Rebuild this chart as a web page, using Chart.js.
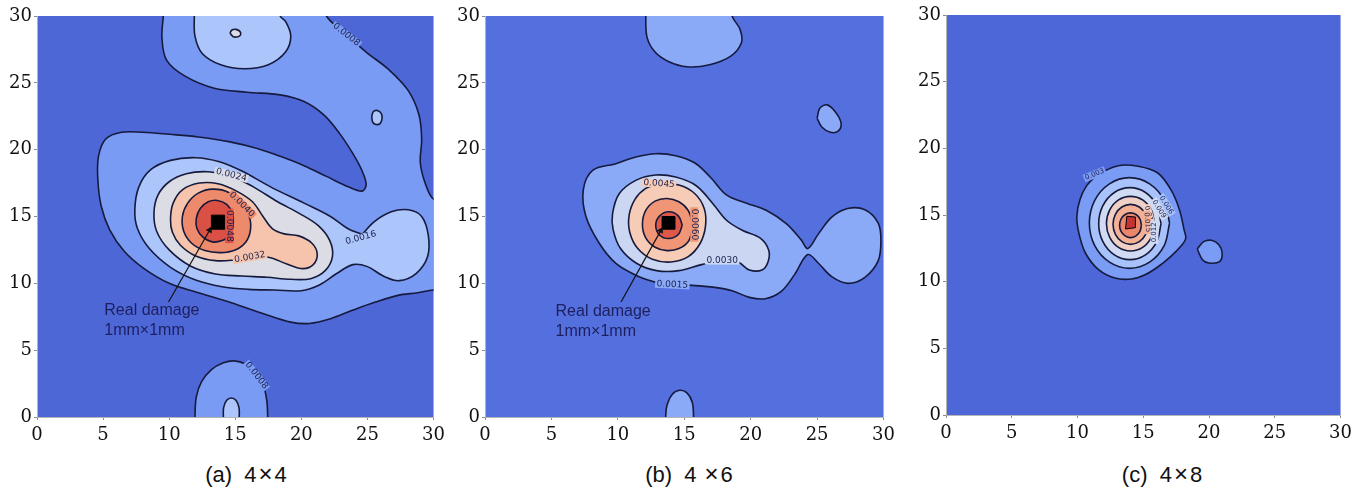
<!DOCTYPE html>
<html>
<head>
<meta charset="utf-8">
<script src="https://cdn.jsdelivr.net/npm/chart.js@4.4.0/dist/chart.umd.min.js"></script>
<style>
  body { margin: 0; background: #fff; width: 1357px; height: 490px; overflow: hidden; position: relative; }
  canvas { position: absolute; top: 0; }
  .caption { position: absolute; top: 463px; font: 22px "Liberation Sans", Arial, sans-serif; line-height: 22px;
             color: #111; white-space: pre; transform: translateX(-50%); }
  .caption span { margin: 0 2px; font-size: 24px; }
</style>
</head>
<body>
<canvas id="chartA" width="450" height="450" style="left:0px"></canvas>
<canvas id="chartB" width="450" height="450" style="left:450px"></canvas>
<canvas id="chartC" width="457" height="450" style="left:900px"></canvas>
<script>
const axisTicks = [0, 5, 10, 15, 20, 25, 30];
const captions = ['(a)  4×4', '(b)  4 ×6', '(c)  4×8'];
const noteLines = ['Real damage', '1mm×1mm'];

// (a) 4x4 : contour outlines, [x, y]
const a1Main = [[9.55,31],[9.55,30],[9.45,28.4],[9.8,26.7],[11.2,25.5],[13.4,24.6],[15.9,24.3],[18.4,24.1],[20.2,23.6],
  [21.7,22.6],[22.9,21.2],[23.9,19.7],[24.6,18.4],[24.9,17.4],[24.6,16.9],[23.6,17.2],[21.9,18.0],[20.2,18.8],[18.4,19.5],
  [16.6,20.1],[14.5,20.6],[12.2,20.95],[10.0,21.15],[8.0,21.3],[6.4,21.3],[5.2,20.8],[4.65,19.5],[4.6,17.8],[4.85,15.8],
  [5.5,14.0],[6.6,12.4],[8.1,11.1],[10.0,10.0],[12.2,9.3],[14.7,8.55],[17.2,7.7],[19.2,7.1],[20.6,7.0],[22.2,7.35],
  [23.9,8.0],[25.6,8.6],[27.3,9.1],[28.8,9.3],[30,9.5],[31,9.5],[31,16.3],[30,16.3],[29.4,17.4],[29.0,19.0],[29.1,20.8],
  [28.9,22.6],[28.1,24.4],[26.6,26.0],[24.9,27.3],[23.3,28.7],[21.9,30],[21.9,31]];
const a1Bottom = [[11.95,-1],[11.95,0],[12.05,1.5],[12.45,2.65],[13.2,3.55],[14.1,4.05],[14.9,4.2],[15.8,3.95],[16.6,3.3],
  [17.15,2.3],[17.4,1.1],[17.45,0],[17.45,-1]];
const a2Top = [[11.9,31],[11.9,30],[11.95,28.5],[12.5,27.2],[13.9,26.35],[15.7,26.05],[17.5,26.35],[18.8,27.3],[19.2,28.5],
  [18.8,29.6],[18.4,30],[18.4,31]];
const a2Island = [[25.32,22.45],[25.45,22.85],[25.75,22.93],[26.05,22.7],[26.1,22.3],[25.95,21.95],[25.65,21.88],[25.4,22.05],[25.32,22.45]];
const a2Bottom = [[14.1,-1],[14.1,0],[14.12,0.7],[14.35,1.25],[14.7,1.42],[15.05,1.25],[15.28,0.7],[15.3,0],[15.3,-1]];
const a2Main = [[24.6,13.65],[25.5,14.6],[26.8,15.35],[28.1,15.5],[29.1,15.0],[29.6,13.6],[29.55,12.0],[28.7,10.75],
  [27.4,10.2],[26.2,10.55],[25.0,11.25],[23.9,11.4],[22.7,10.75],[21.4,9.9],[20.0,9.45],[18.0,9.5],[16.0,9.55],[14.0,9.75],
  [12.0,10.25],[10.1,11.2],[8.5,12.6],[7.6,14.1],[7.4,15.5],[7.7,17.2],[8.6,18.5],[10.1,19.2],[12.0,19.4],[13.8,19.1],
  [15.5,18.4],[17.7,17.2],[20.2,16.0],[22.2,15.0],[23.5,14.1],[24.6,13.65]];
const a3Main = [[14.7,18.05],[16.4,17.2],[18.2,16.1],[19.9,15.2],[21.3,14.3],[22.15,13.2],[22.35,12.0],[21.8,10.95],
  [20.7,10.35],[19.2,10.3],[17.4,10.45],[15.5,10.55],[13.5,10.7],[11.6,11.3],[10.0,12.5],[9.05,13.9],[8.85,15.3],
  [9.15,16.6],[10.0,17.6],[11.3,18.2],[12.9,18.35],[14.7,18.05]];
const a3Island = [[14.6,28.72],[14.75,28.95],[15.05,29.0],[15.35,28.85],[15.4,28.6],[15.2,28.45],[14.85,28.45],[14.6,28.72]];
const a4Main = [[16.05,11.9],[17.5,11.95],[18.9,11.45],[20.1,11.1],[20.9,11.4],[21.2,12.2],[20.8,13.0],[19.8,13.55],
  [18.7,13.7],[17.8,14.1],[17.1,15.0],[16.3,16.1],[15.1,16.9],[13.7,17.45],[12.3,17.5],[11.0,17.0],[10.3,16.0],[10.1,14.8],
  [10.25,13.8],[10.85,12.85],[12.0,12.05],[13.5,11.7],[15.0,11.75],[16.05,11.9]];
const a5Main = [[15.4,15.95],[16.05,15.0],[16.15,14.0],[15.8,13.1],[15.0,12.5],[13.9,12.3],[12.7,12.45],[11.7,13.0],
  [11.1,13.9],[11.0,15.0],[11.4,16.0],[12.2,16.75],[13.3,17.05],[14.5,16.8],[15.4,15.95]];
const a6Main = [[14.85,14.4],[14.6,13.6],[14.0,13.2],[13.25,13.1],[12.55,13.45],[12.1,14.1],[12.05,14.85],[12.35,15.6],
  [12.95,16.1],[13.65,16.2],[14.35,15.9],[14.8,15.2],[14.85,14.4]];
const aDamage = [[13.2,14.05],[14.2,14.05],[14.2,15.1],[13.2,15.1],[13.2,14.05]];
const aArrow = [[9.95,8.6],[13.07,13.99]];
const aNote = [5.09, 7.63];
// [text, x, y, angle, contour level it sits on]
const aLabels = [['0.0008',23.4,28.6,38,1],['0.0008',16.6,3.1,52,1],['0.0024',14.7,18.1,14,3],['0.0040',15.5,15.9,45,5],
  ['0.0048',14.55,14.3,90,6],['0.0032',16.1,11.95,-10,4],['0.0016',24.5,13.4,-15,2]];

// (b) 4x6
const b1Top = [[12.1,31],[12.1,30],[12.2,28.4],[12.8,27.3],[13.8,26.6],[15.2,26.2],[16.9,26.35],[18.5,27.0],[19.3,28.0],
  [19.2,29.0],[18.6,30],[18.6,31]];
const b1Island = [[25.0,22.35],[25.2,23.1],[25.75,23.35],[26.35,22.85],[26.8,22.0],[26.6,21.4],[26.0,21.3],[25.35,21.7],[25.0,22.35]];
const b1Bottom = [[13.6,-1],[13.6,0],[13.7,0.9],[14.1,1.7],[14.65,2.0],[15.2,1.8],[15.6,1.1],[15.7,0],[15.7,-1]];
const b1Main = [[14.1,9.9],[15.6,9.85],[17.3,9.7],[18.6,9.45],[19.9,8.95],[21.1,8.85],[22.3,9.4],[23.3,10.65],[24.3,12.15],
  [25.1,11.5],[26.1,10.5],[27.3,10.0],[28.6,10.45],[29.6,11.7],[29.8,13.2],[29.6,14.5],[28.6,15.5],[27.3,15.6],[26.1,14.95],
  [25.1,13.7],[24.3,12.6],[23.8,13.25],[22.7,14.45],[21.2,15.45],[19.7,16.0],[18.2,16.6],[17.0,17.9],[15.8,19.0],
  [14.35,19.55],[12.85,19.7],[11.35,19.45],[9.85,18.95],[8.1,18.45],[7.4,17.0],[7.6,15.0],[8.6,13.0],[9.85,11.5],
  [11.6,10.5],[13.0,10.05],[14.1,9.9]];
const b2Main = [[17.85,11.7],[19.1,11.55],[19.9,11.0],[20.85,11.0],[21.3,11.6],[21.35,12.5],[20.7,13.4],[19.4,13.95],
  [18.2,14.7],[17.2,15.9],[15.9,17.3],[14.35,17.95],[12.85,18.1],[11.35,17.7],[10.1,16.7],[9.6,15.2],[9.65,14.0],
  [10.2,12.6],[11.4,11.5],[12.9,10.95],[14.6,10.95],[16.3,11.4],[17.85,11.7]];
const b3Main = [[13.1,17.45],[14.6,17.35],[15.8,16.7],[16.5,15.6],[16.6,14.3],[16.2,13.0],[15.3,12.0],[14.0,11.6],
  [12.6,11.8],[11.5,12.6],[10.9,13.8],[10.85,15.1],[11.3,16.3],[12.1,17.1],[13.1,17.45]];
const b4Main = [[15.65,14.4],[15.35,13.2],[14.6,12.6],[13.7,12.45],[12.8,12.7],[12.1,13.4],[11.85,14.4],[12.1,15.45],
  [12.8,16.15],[13.7,16.35],[14.6,16.1],[15.3,15.45],[15.65,14.4]];
const b5Main = [[14.85,14.35],[14.55,13.65],[13.85,13.35],[13.15,13.6],[12.85,14.35],[13.15,15.05],[13.85,15.35],
  [14.55,15.05],[14.85,14.35]];
const bDamage = [[13.35,14.05],[14.3,14.05],[14.3,15.0],[13.35,15.0],[13.35,14.05]];
const bArrow = [[10.24,8.6],[13.24,13.96]];
const bNote = [5.31, 7.53];
const bLabels = [['0.0045',13.1,17.45,4,3],['0.0060',15.75,14.4,90,4],['0.0030',17.85,11.7,0,2],['0.0015',14.1,9.9,3,1]];

// (c) 4x8
const c1Main = [[11.5,18.05],[13.1,18.7],[14.6,18.65],[16.1,18.15],[17.1,16.9],[17.75,15.4],[18.1,13.9],[18.23,13.25],
  [17.85,12.65],[17.1,11.9],[16.1,11.1],[15.1,10.5],[14.1,10.2],[12.85,10.27],[11.6,10.9],[10.6,12.15],[10.1,13.65],
  [9.95,14.9],[10.2,16.2],[10.7,17.2],[11.5,18.05]];
const c1Island = [[19.1,12.45],[19.6,13.0],[20.2,13.1],[20.75,12.77],[21.0,12.15],[20.8,11.5],[20.0,11.4],[19.5,11.65],[19.1,12.45]];
const c2Main = [[17.0,14.4],[16.59,16.1],[15.48,17.34],[13.95,17.8],[12.43,17.34],[11.31,16.1],[10.9,14.4],[11.31,12.7],
  [12.43,11.46],[13.95,11.0],[15.48,11.46],[16.59,12.7],[17.0,14.4]];
const c3Main = [[16.35,14.35],[16.03,15.7],[15.17,16.69],[13.98,17.05],[12.8,16.69],[11.93,15.7],[11.61,14.35],[11.93,13.0],
  [12.8,12.01],[13.98,11.65],[15.17,12.01],[16.03,13.0],[16.35,14.35]];
const c4Main = [[15.86,14.35],[15.61,15.38],[14.95,16.13],[14.03,16.4],[13.12,16.13],[12.45,15.38],[12.2,14.35],[12.45,13.33],
  [13.12,12.57],[14.03,12.3],[14.95,12.57],[15.61,13.33],[15.86,14.35]];
const c5Main = [[15.36,14.3],[15.18,15.05],[14.7,15.6],[14.03,15.8],[13.37,15.6],[12.88,15.05],[12.7,14.3],[12.88,13.55],
  [13.37,13.0],[14.03,12.8],[14.7,13.0],[15.18,13.55],[15.36,14.3]];
const c6Main = [[14.86,14.23],[14.75,14.7],[14.45,15.04],[14.03,15.16],[13.62,15.04],[13.31,14.7],[13.2,14.23],[13.31,13.77],
  [13.62,13.43],[14.03,13.3],[14.45,13.43],[14.75,13.77],[14.86,14.23]];
const c7Main = [[13.65,13.95],[14.4,14.05],[14.4,14.85],[13.75,14.9],[13.65,13.95]];
const cLabels = [['0.003',11.3,18.05,-22,1],['0.006',16.75,15.75,58,2],['0.009',16.2,15.45,58,3],['0.012',15.45,14.95,75,4],
  ['0.015',15.3,14.45,85,5],['0.012',15.85,13.7,-90,3]];

// fill colours, lowest level first
const paletteA = ['rgb(78,103,215)','rgb(121,155,243)','rgb(172,198,251)','rgb(220,221,228)','rgb(246,196,172)','rgb(238,138,108)','rgb(218,80,68)'];
const paletteB = ['rgb(84,111,222)','rgb(138,170,248)','rgb(202,214,242)','rgb(246,204,182)','rgb(240,150,118)','rgb(222,88,74)'];
const paletteC = ['rgb(77,102,216)','rgb(122,156,244)','rgb(168,194,252)','rgb(208,218,242)','rgb(240,208,196)','rgb(244,176,148)','rgb(236,134,106)','rgb(196,52,52)'];

const lineColor = '#161a3c';
const noteColor = '#1d1f5e';

function contourSet(points, fillColor, level) {
  return {
    data: points.map(p => ({ x: p[0], y: p[1] })),
    borderColor: lineColor,
    borderWidth: 1.6,
    backgroundColor: fillColor,
    fill: 'shape',
    tension: 0.35,
    pointRadius: 0,
    clip: 0,
    order: -level
  };
}

function damageSet(points, fillColor) {
  return {
    data: points.map(p => ({ x: p[0], y: p[1] })),
    borderColor: '#000',
    borderWidth: 1,
    backgroundColor: fillColor,
    fill: 'shape',
    tension: 0,
    pointRadius: 0,
    clip: 0,
    order: -20
  };
}

function arrowSet(points) {
  return {
    data: points.map(p => ({ x: p[0], y: p[1] })),
    borderColor: '#111',
    borderWidth: 1.2,
    fill: false,
    tension: 0,
    pointRadius: [0, 4],
    pointStyle: 'triangle',
    pointRotation: [0, 30],
    pointBackgroundColor: '#111',
    pointBorderWidth: 0,
    clip: 0,
    order: -21
  };
}

// background, contour labels (with a gap in the line) and the damage note
function notesPlugin(palette, labels, note, labelFont) {
  return {
    id: 'notes',
    beforeDraw(chart) {
      const { ctx, chartArea: a } = chart;
      ctx.save();
      ctx.fillStyle = palette[0];
      ctx.fillRect(a.left, a.top, a.right - a.left, a.bottom - a.top);
      ctx.restore();
    },
    afterDatasetsDraw(chart) {
      const { ctx, scales: { x, y } } = chart;
      ctx.save();
      ctx.font = labelFont;
      ctx.textAlign = 'center';
      ctx.textBaseline = 'middle';
      labels.forEach(([t, lx, ly, rot, lev]) => {
        const w = ctx.measureText(t).width + 3;
        ctx.save();
        ctx.translate(x.getPixelForValue(lx), y.getPixelForValue(ly));
        ctx.rotate(rot * Math.PI / 180);
        ctx.fillStyle = palette[lev];
        ctx.fillRect(-w / 2, -4, w, 8);
        ctx.fillStyle = '#1c2150';
        ctx.fillText(t, 0, 0);
        ctx.restore();
      });
      if (note) {
        ctx.font = '16px "Liberation Sans", Arial, sans-serif';
        ctx.fillStyle = noteColor;
        ctx.textAlign = 'left';
        ctx.textBaseline = 'alphabetic';
        const nx = x.getPixelForValue(note[0]);
        const ny = y.getPixelForValue(note[1]);
        noteLines.forEach((t, i) => ctx.fillText(t, nx, ny + i * 20));
      }
      ctx.restore();
    }
  };
}

function axis(size, pad) {
  return {
    type: 'linear',
    min: 0,
    max: 30,
    afterBuildTicks: scale => { scale.ticks = axisTicks.map(v => ({ value: v })); },
    afterFit: scale => {
      if (scale.isHorizontal()) scale.height = size; else scale.width = size;
    },
    ticks: { color: '#111', padding: pad, font: { family: "'DejaVu Serif', serif", size: 18 } },
    grid: { display: true, drawOnChartArea: false, drawTicks: true, tickLength: 3, color: '#8a8a8a' },
    border: { display: true, color: '#b5b5b5' }
  };
}

function makePanel(id, sets, palette, labels, note, box, labelFont) {
  new Chart(document.getElementById(id), {
    type: 'line',
    data: { datasets: sets },
    options: {
      responsive: false,
      animation: false,
      events: [],
      layout: { padding: { left: 0, top: box.top, right: box.right, bottom: 0 } },
      elements: { line: { capBezierPoints: false } },
      scales: { x: axis(box.xh, 5), y: axis(box.yw, 2) },
      plugins: { legend: { display: false }, tooltip: { enabled: false } }
    },
    plugins: [notesPlugin(palette, labels, note, labelFont)]
  });
}

const pA = paletteA, pB = paletteB, pC = paletteC;

makePanel('chartA', [
  contourSet(a1Main, pA[1], 1), contourSet(a1Bottom, pA[1], 1),
  contourSet(a2Top, pA[2], 2), contourSet(a2Island, pA[2], 2), contourSet(a2Bottom, pA[2], 2), contourSet(a2Main, pA[2], 2),
  contourSet(a3Main, pA[3], 3), contourSet(a3Island, pA[3], 3),
  contourSet(a4Main, pA[4], 4), contourSet(a5Main, pA[5], 5), contourSet(a6Main, pA[6], 6),
  damageSet(aDamage, '#000'), arrowSet(aArrow)
], pA, aLabels, aNote, { top: 16, right: 12, yw: 37, xh: 33 }, '9px "DejaVu Sans", sans-serif');

makePanel('chartB', [
  contourSet(b1Top, pB[1], 1), contourSet(b1Island, pB[1], 1), contourSet(b1Bottom, pB[1], 1), contourSet(b1Main, pB[1], 1),
  contourSet(b2Main, pB[2], 2), contourSet(b3Main, pB[3], 3), contourSet(b4Main, pB[4], 4), contourSet(b5Main, pB[5], 5),
  damageSet(bDamage, '#000'), arrowSet(bArrow)
], pB, bLabels, bNote, { top: 16, right: 14, yw: 35, xh: 33 }, '9px "DejaVu Sans", sans-serif');

makePanel('chartC', [
  contourSet(c1Main, pC[1], 1), contourSet(c1Island, pC[1], 1),
  contourSet(c2Main, pC[2], 2), contourSet(c3Main, pC[3], 3), contourSet(c4Main, pC[4], 4),
  contourSet(c5Main, pC[5], 5), contourSet(c6Main, pC[6], 6),
  damageSet(c7Main, pC[7])
], pC, cLabels, null, { top: 15, right: 12, yw: 46, xh: 35 }, '7px "DejaVu Sans", sans-serif');

// captions under each panel
const captionCenters = [246, 689, 1162];
captions.forEach((t, i) => {
  const d = document.createElement('div');
  d.className = 'caption';
  d.style.left = captionCenters[i] + 'px';
  const parts = t.split('×');
  d.append(parts[0]);
  const s = document.createElement('span');
  s.textContent = '×';
  d.append(s, parts[1]);
  document.body.appendChild(d);
});
</script>
</body>
</html>
